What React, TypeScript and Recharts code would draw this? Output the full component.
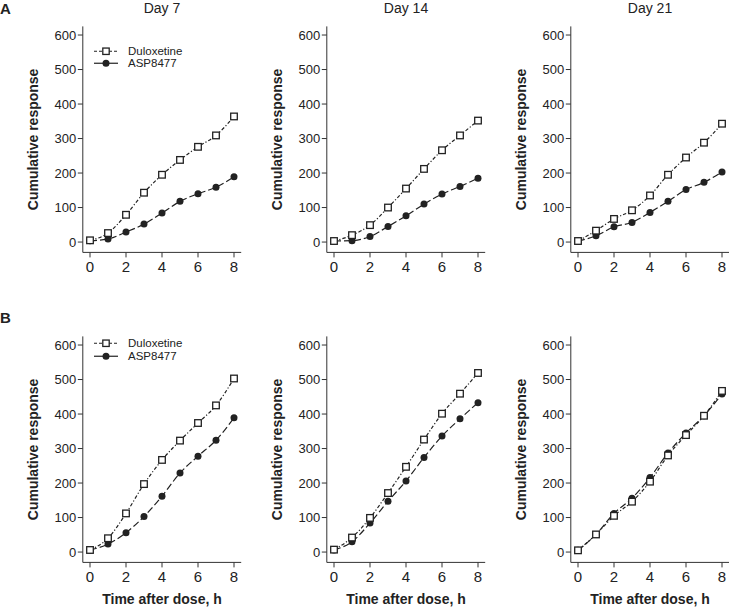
import React from "react";
import { LineChart, Line, XAxis, YAxis, Legend } from "recharts";

const hours = [0, 1, 2, 3, 4, 5, 6, 7, 8];
const xTicks = [0, 2, 4, 6, 8];
const yTicks = [0, 100, 200, 300, 400, 500, 600];
const dayTitles = ["Day 7", "Day 14", "Day 21"];

// row A
const duloxA7 = [5, 26, 79, 143, 195, 238, 276, 309, 364];
const aspA7 = [4, 9, 29, 52, 84, 118, 140, 159, 189];
const duloxA14 = [3, 20, 49, 100, 155, 212, 266, 309, 352];
const aspA14 = [3, 4, 16, 45, 76, 110, 139, 161, 185];
const duloxA21 = [3, 33, 67, 92, 135, 195, 245, 288, 343];
const aspA21 = [3, 18, 44, 57, 86, 118, 152, 173, 203];

// row B
const duloxB7 = [6, 40, 112, 197, 267, 323, 374, 425, 503];
const aspB7 = [6, 23, 56, 103, 162, 229, 278, 324, 389];
const duloxB14 = [7, 42, 99, 171, 247, 326, 401, 459, 519];
const aspB14 = [6, 30, 84, 147, 206, 274, 336, 386, 433];
const duloxB21 = [5, 51, 105, 146, 204, 280, 339, 395, 467];
const aspB21 = [5, 51, 112, 156, 216, 287, 345, 395, 458];

const INK = "#222";
const AXIS = "#333";
const FONT = '"Liberation Sans", Arial, sans-serif';

const legendItems = [
  { name: "Duloxetine", dash: "3 2", marker: "square" },
  { name: "ASP8477", dash: undefined, marker: "circle" },
];

function LegendBox() {
  return (
    <div style={{ fontSize: 11.5, color: INK, lineHeight: "12.5px" }}>
      {legendItems.map((item) => (
        <div key={item.name} style={{ display: "flex", alignItems: "center", height: 12.5 }}>
          <svg width={34} height={12.5} style={{ display: "block" }}>
            <line x1={0} x2={24} y1={6.25} y2={6.25} stroke={INK} strokeWidth={1.2} strokeDasharray={item.dash} />
            {item.marker === "square" ? (
              <rect x={8.8} y={3.05} width={6.4} height={6.4} fill="#fff" stroke={INK} strokeWidth={1.3} />
            ) : (
              <circle cx={12} cy={6.25} r={3.5} fill={INK} />
            )}
          </svg>
          <span>{item.name}</span>
        </div>
      ))}
    </div>
  );
}

const SquareDot = (props: any) => {
  const { cx, cy, index } = props;
  if (cx == null || cy == null) return null;
  return (
    <rect key={`sq-${index}`} x={cx - 3.3} y={cy - 3.3} width={6.6} height={6.6} fill="#fff" stroke={INK} strokeWidth={1.3} />
  );
};

function Panel({
  dulox,
  asp,
  left,
  top,
  height,
  legendTop,
  xLabel,
}: {
  dulox: number[];
  asp: number[];
  left: number;
  top: number;
  height: number;
  legendTop?: number;
  xLabel?: boolean;
}) {
  const data = hours.map((h, i) => ({ hour: h, dulox: dulox[i], asp: asp[i] }));
  return (
    <div style={{ position: "absolute", left, top }}>
      <LineChart width={243} height={height} data={data} margin={{ top: 26.4, right: 1.8, bottom: 0, left: 0 }}>
        <XAxis
          dataKey="hour"
          type="number"
          domain={[-0.4, 8.4]}
          ticks={xTicks}
          allowDataOverflow
          height={height - 26.4 - 226}
          stroke={AXIS}
          tickSize={5}
          tickMargin={4}
          tick={{ fill: INK, fontSize: 15 }}
          label={
            xLabel
              ? { value: "Time after dose, h", position: "insideBottom", offset: 3, style: { fontWeight: "bold", fontSize: 14, fill: INK } }
              : undefined
          }
        />
        <YAxis
          type="number"
          domain={[-30, 625]}
          ticks={yTicks}
          allowDataOverflow
          width={82.8}
          stroke={AXIS}
          tickSize={5}
          tickMargin={1.5}
          tick={{ fill: INK, fontSize: 13 }}
          label={{
            value: "Cumulative response",
            angle: -90,
            position: "insideLeft",
            offset: 33.5,
            style: { textAnchor: "middle", fontWeight: "bold", fontSize: 14, fill: INK },
          }}
        />
        {legendTop !== undefined && (
          <Legend
            layout="horizontal"
            verticalAlign="middle"
            align="center"
            content={() => <LegendBox />}
            wrapperStyle={{ left: 94, top: legendTop, width: 130, height: 25 }}
          />
        )}
        <Line
          dataKey="asp"
          name="ASP8477"
          type="monotone"
          stroke={INK}
          strokeWidth={1.2}
          strokeDasharray="7 3"
          dot={{ r: 3.5, fill: INK, stroke: INK, strokeWidth: 0 }}
          isAnimationActive={false}
        />
        <Line
          dataKey="dulox"
          name="Duloxetine"
          type="monotone"
          stroke={INK}
          strokeWidth={1.2}
          strokeDasharray="3.5 2 1.2 2"
          dot={SquareDot}
          isAnimationActive={false}
        />
      </LineChart>
    </div>
  );
}

const titleCenters = [162, 406, 650];

export default function App() {
  return (
    <div
      style={{
        position: "absolute",
        left: 0,
        top: 0,
        width: 729,
        height: 607,
        overflow: "hidden",
        background: "#fff",
        fontFamily: FONT,
        color: INK,
      }}
    >
      <div style={{ position: "absolute", left: 0, top: 1, fontSize: 15, fontWeight: "bold", lineHeight: "15px" }}>A</div>
      <div style={{ position: "absolute", left: 0, top: 310, fontSize: 15, fontWeight: "bold", lineHeight: "15px" }}>B</div>
      {dayTitles.map((t, i) => (
        <div
          key={t}
          style={{
            position: "absolute",
            left: titleCenters[i] - 50,
            width: 100,
            top: 1,
            textAlign: "center",
            fontSize: 14,
            lineHeight: "14px",
          }}
        >
          {t}
        </div>
      ))}
      <Panel dulox={duloxA7} asp={aspA7} left={0} top={0} height={290} legendTop={44.75} />
      <Panel dulox={duloxA14} asp={aspA14} left={244} top={0} height={290} />
      <Panel dulox={duloxA21} asp={aspA21} left={488} top={0} height={290} />
      <Panel dulox={duloxB7} asp={aspB7} left={0} top={310} height={297} legendTop={27} xLabel />
      <Panel dulox={duloxB14} asp={aspB14} left={244} top={310} height={297} xLabel />
      <Panel dulox={duloxB21} asp={aspB21} left={488} top={310} height={297} xLabel />
    </div>
  );
}
